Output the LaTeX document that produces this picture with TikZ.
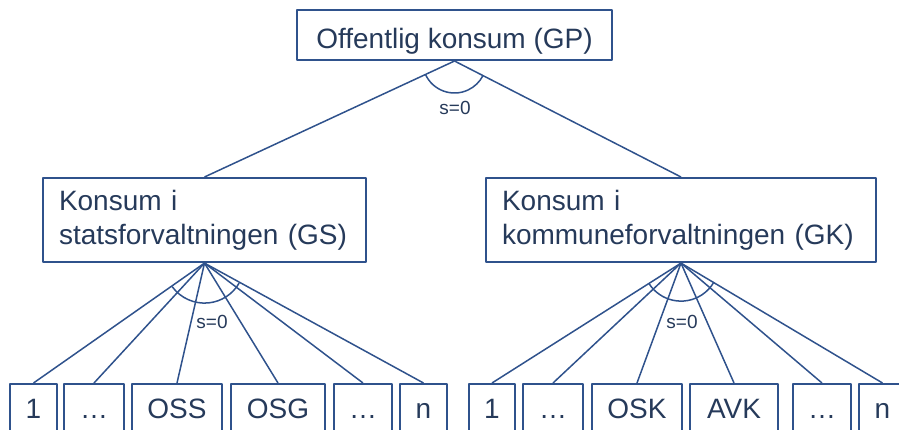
\documentclass[tikz,border=0pt]{standalone}
\usepackage{fontspec}
\setmainfont{Liberation Sans}
\usepackage{xcolor}
\usepackage{tikz}

\definecolor{lineblue}{RGB}{47,82,140}
\definecolor{textblue}{RGB}{38,58,90}

\begin{document}
\begin{tikzpicture}[x=1pt, y=-1pt, line join=round]
% Define styles
\tikzstyle{topbox} = [rectangle, draw=lineblue, line width=2pt, text=textblue, font=\fontsize{28}{34}\selectfont, minimum width=315pt, text height=34pt, text depth=8pt, inner ysep=4pt, inner xsep=0pt, anchor=north]
\tikzstyle{groupbox} = [rectangle, draw=lineblue, line width=2pt, text=textblue, font=\fontsize{28}{34}\selectfont, align=left, inner xsep=16pt, inner ysep=12pt, anchor=north west]
\tikzstyle{leaf} = [rectangle, draw=lineblue, line width=1.5pt, text=textblue, font=\fontsize{28}{34}\selectfont, text height=20pt, text depth=6pt, inner ysep=15pt, inner xsep=0pt, anchor=north]
\tikzstyle{link} = [draw=lineblue, line width=1.5pt]
\tikzstyle{elast} = [text=textblue, font=\fontsize{19}{22}\selectfont]

\useasboundingbox (0,0) rectangle (899,429);
\clip (0,0) rectangle (899,429);

% Top level
\node [topbox] (gp) at (454.5,9) {Offentlig konsum (GP)};

% Second level
\node [groupbox, text width=291pt] (gs) at (42,177) {Konsum i\\statsforvaltningen (GS)};
\node [groupbox, text width=358pt] (gk) at (485,177) {Konsum i\\kommuneforvaltningen (GK)};

% Leaves under GS
\node [leaf, minimum width=47pt] (gs1) at (33.5,383) {1};
\node [leaf, minimum width=60pt] (gsdotsa) at (94,383) {…};
\node [leaf, minimum width=90pt] (oss) at (177,383) {OSS};
\node [leaf, minimum width=94pt] (osg) at (278,383) {OSG};
\node [leaf, minimum width=58pt] (gsdotsb) at (363,383) {…};
\node [leaf, minimum width=47pt] (gsn) at (423.5,383) {n};

% Leaves under GK
\node [leaf, minimum width=46pt] (gk1) at (492,383) {1};
\node [leaf, minimum width=60pt] (gkdotsa) at (553,383) {…};
\node [leaf, minimum width=90pt] (osk) at (637,383) {OSK};
\node [leaf, minimum width=88pt] (avk) at (734,383) {AVK};
\node [leaf, minimum width=58pt] (gkdotsb) at (822,383) {…};
\node [leaf, minimum width=47pt] (gkn) at (882.5,383) {n};

% Connections
\draw [link] (gp.south) -- (gs.north);
\draw [link] (gp.south) -- (gk.north);

\draw [link] (gs.south) -- (gs1.north);
\draw [link] (gs.south) -- (gsdotsa.north);
\draw [link] (gs.south) -- (oss.north);
\draw [link] (gs.south) -- (osg.north);
\draw [link] (gs.south) -- (gsdotsb.north);
\draw [link] (gs.south) -- (gsn.north);

\draw [link] (gk.south) -- (gk1.north);
\draw [link] (gk.south) -- (gkdotsa.north);
\draw [link] (gk.south) -- (osk.north);
\draw [link] (gk.south) -- (avk.north);
\draw [link] (gk.south) -- (gkdotsb.north);
\draw [link] (gk.south) -- (gkn.north);

% Substitution arcs
\draw [link] (gp.south) ++(205:32pt) arc [start angle=205, end angle=332.5, radius=32pt];
\draw [link] (gs.south) ++(216:40pt) arc [start angle=216, end angle=330, radius=40pt];
\draw [link] (gk.south) ++(213:38pt) arc [start angle=213, end angle=330, radius=38pt];

\node [elast] (sgp) at (455,108) {s=0};
\node [elast] (sgs) at (212,322) {s=0};
\node [elast] (sgk) at (682,322) {s=0};

\end{tikzpicture}
\end{document}
